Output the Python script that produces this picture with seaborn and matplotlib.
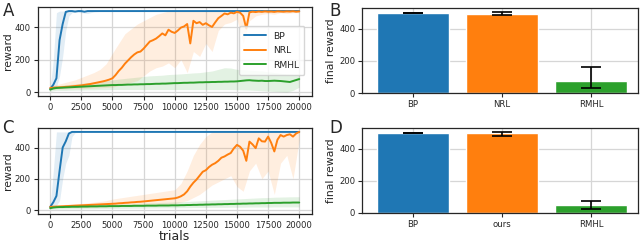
import numpy as np
import pandas as pd
import matplotlib
matplotlib.use("Agg")
import matplotlib.pyplot as plt
import seaborn as sns

# ----------------------------------------------------
# data
# ----------------------------------------------------
trials = list(range(0, 20001, 250))
band_trials = [0, 250, 500, 750, 1000, 1250, 1500, 1750, 2000] + list(range(2500, 20001, 500))

# panel A (mean curves)
a_bp = [20, 45, 85, 320, 420, 495, 500, 500, 497, 500,
        500, 496, 500, 500, 500, 500, 500, 500, 500, 500,
        500, 500, 500, 500, 500, 500, 500, 500, 500, 500,
        500, 500, 500, 500, 500, 500, 500, 500, 500, 500,
        500, 500, 500, 500, 500, 500, 500, 500, 500, 500,
        500, 500, 500, 500, 500, 500, 500, 500, 500, 500,
        500, 500, 500, 500, 500, 500, 500, 500, 500, 500,
        500, 500, 500, 500, 500, 500, 500, 500, 500, 500,
        500]
a_nrl = [25, 27, 28, 29, 30, 32, 33, 35, 37, 39,
         41, 44, 47, 50, 54, 58, 62, 66, 71, 77,
         85, 105, 130, 150, 175, 195, 215, 232, 245, 250,
         268, 290, 312, 320, 330, 345, 362, 350, 385, 372,
         365, 380, 398, 405, 420, 300, 440, 425, 432, 415,
         425, 412, 402, 430, 456, 470, 485, 480, 490, 486,
         495, 490, 470, 392, 492, 496, 494, 497, 495, 498,
         496, 497, 495, 498, 497, 496, 498, 497, 499, 496,
         498]
a_rmhl = [15, 22, 25, 26, 27, 28, 29, 30, 31, 32,
          33, 34, 35, 36, 37, 38, 39, 40, 41, 42,
          43, 43, 44, 44, 45, 46, 46, 47, 47, 48,
          48, 49, 49, 50, 51, 51, 52, 52, 53, 54,
          55, 55, 56, 57, 57, 58, 58, 59, 60, 60,
          61, 61, 62, 62, 63, 63, 64, 64, 65, 65,
          66, 68, 70, 72, 73, 71, 70, 69, 70, 68,
          68, 69, 70, 69, 68, 66, 64, 62, 68, 74,
          80]

# panel A (shaded spread)
a_bp_lo = [15, 20, 30, 100, 220, 380, 470, 490, 495, 490,
           485, 495, 498, 498, 498, 498, 498, 498, 498, 498,
           498, 498, 498, 498, 498, 498, 498, 498, 498, 498,
           498, 498, 498, 498, 498, 498, 498, 498, 498, 498,
           498, 498, 498, 498, 498]
a_bp_hi = [25, 200, 490, 500, 500, 500, 500, 500, 500, 500,
           500, 500, 500, 500, 500, 500, 500, 500, 500, 500,
           500, 500, 500, 500, 500, 500, 500, 500, 500, 500,
           500, 500, 500, 500, 500, 500, 500, 500, 500, 500,
           500, 500, 500, 500, 500]
a_nrl_lo = [15, 18, 18, 19, 19, 19, 20, 20, 20, 20,
            22, 24, 26, 28, 30, 40, 50, 60, 70, 100,
            130, 150, 160, 180, 150, 200, 120, 250, 220, 300,
            250, 380, 420, 430, 450, 300, 440, 470, 480, 485,
            480, 490, 485, 490, 490]
a_nrl_hi = [35, 40, 45, 50, 55, 60, 65, 70, 75, 90,
            105, 120, 140, 175, 240, 300, 360, 390, 420, 440,
            460, 480, 490, 500, 500, 500, 500, 500, 500, 500,
            500, 500, 500, 500, 500, 500, 500, 500, 500, 500,
            500, 500, 500, 500, 500]
a_rmhl_lo = [5, 8, 10, 10, 10, 10, 11, 11, 12, 12,
             13, 13, 14, 14, 15, 15, 15, 15, 15, 15,
             15, 15, 15, 15, 15, 15, 15, 15, 15, 15,
             15, 15, 15, 15, 14, 13, 12, 10, 8, 6,
             4, 2, 0, 10, 30]
a_rmhl_hi = [25, 35, 38, 40, 42, 44, 46, 48, 50, 54,
             58, 62, 66, 70, 75, 80, 84, 88, 92, 96,
             100, 102, 104, 108, 110, 112, 115, 118, 120, 125,
             130, 140, 150, 148, 140, 138, 135, 132, 130, 125,
             120, 115, 112, 110, 110]

# panel C (mean curves)
c_bp = [20, 50, 90, 250, 400, 440, 490, 500, 500, 500,
        500, 500, 500, 500, 500, 500, 500, 500, 500, 500,
        500, 500, 500, 500, 500, 500, 500, 500, 500, 500,
        500, 500, 500, 500, 500, 500, 500, 500, 500, 500,
        500, 500, 500, 500, 500, 500, 500, 500, 500, 500,
        500, 500, 500, 500, 500, 500, 500, 500, 500, 500,
        500, 500, 500, 500, 500, 500, 500, 500, 500, 500,
        500, 500, 500, 500, 500, 500, 500, 500, 500, 500,
        500]
c_ours = [20, 21, 22, 23, 24, 25, 26, 27, 28, 29,
          30, 31, 32, 33, 34, 35, 36, 37, 38, 39,
          40, 41, 43, 44, 46, 47, 49, 50, 52, 53,
          55, 57, 59, 61, 63, 65, 67, 69, 71, 73,
          75, 80, 88, 100, 120, 150, 175, 195, 220, 245,
          255, 275, 290, 300, 315, 335, 343, 355, 365, 395,
          417, 405, 380, 315, 438, 420, 396, 459, 440, 438,
          470, 430, 375, 450, 480, 470, 480, 485, 470, 490,
          500]
c_rmhl = [12, 16, 18, 19, 19, 20, 20, 21, 21, 21,
          22, 22, 22, 23, 23, 23, 24, 24, 24, 25,
          25, 25, 25, 26, 26, 26, 26, 27, 27, 27,
          27, 28, 28, 28, 28, 29, 29, 29, 29, 30,
          30, 30, 31, 31, 32, 32, 33, 33, 34, 34,
          35, 35, 36, 36, 37, 37, 38, 38, 39, 39,
          40, 40, 41, 41, 42, 42, 43, 43, 44, 44,
          45, 45, 46, 46, 46, 47, 47, 47, 48, 48,
          48]

# panel C (shaded spread)
c_bp_lo = [15, 20, 30, 60, 200, 300, 350, 470, 495, 498,
           498, 498, 498, 498, 498, 498, 498, 498, 498, 498,
           498, 498, 498, 498, 498, 498, 498, 498, 498, 498,
           498, 498, 498, 498, 498, 498, 498, 498, 498, 498,
           498, 498, 498, 498, 498]
c_bp_hi = [25, 250, 500, 500, 500, 500, 500, 500, 500, 500,
           500, 500, 500, 500, 500, 500, 500, 500, 500, 500,
           500, 500, 500, 500, 500, 500, 500, 500, 500, 500,
           500, 500, 500, 500, 500, 500, 500, 500, 500, 500,
           500, 500, 500, 500, 500]
c_ours_lo = [15, 15, 15, 16, 16, 16, 17, 17, 17, 18,
             18, 19, 19, 20, 21, 22, 24, 25, 27, 28,
             30, 32, 34, 36, 40, 50, 60, 80, 100, 130,
             160, 180, 200, 220, 150, 120, 250, 300, 200, 250,
             100, 300, 350, 200, 450]
c_ours_hi = [30, 32, 33, 34, 35, 36, 37, 38, 40, 42,
             46, 50, 55, 60, 70, 76, 82, 88, 94, 100,
             106, 112, 118, 124, 130, 170, 250, 350, 420, 470,
             500, 500, 500, 500, 500, 500, 500, 500, 500, 500,
             500, 500, 500, 500, 500]
c_rmhl_lo = [5, 6, 6, 7, 7, 7, 8, 8, 8, 8,
             9, 9, 10, 10, 10, 11, 11, 12, 12, 12,
             13, 13, 14, 14, 14, 15, 15, 16, 16, 16,
             17, 17, 17, 18, 18, 18, 19, 19, 19, 19,
             20, 20, 20, 20, 20]
c_rmhl_hi = [25, 27, 28, 29, 29, 30, 30, 31, 31, 32,
             33, 34, 35, 36, 37, 38, 40, 41, 43, 44,
             46, 47, 49, 50, 52, 53, 55, 57, 59, 61,
             63, 65, 67, 69, 71, 73, 75, 77, 79, 80,
             82, 83, 84, 85, 85]

# bar panels
b_labels = ["BP", "NRL", "RMHL"]
b_values = [497, 493, 76]
b_err_lo = [2, 8, 45]
b_err_hi = [2, 8, 87]

d_labels = ["BP", "ours", "RMHL"]
d_values = [498, 494, 47]
d_err_lo = [2, 13, 23]
d_err_hi = [2, 12, 29]

colors = ["#1f77b4", "#ff7f0e", "#2ca02c"]

# ----------------------------------------------------
# style
# ----------------------------------------------------
sns.set_style("whitegrid", {
    "axes.edgecolor": "#262626",
    "grid.color": "#d6d6d6",
    "xtick.bottom": True,
    "ytick.left": True,
})
plt.rcParams["font.family"] = ["DejaVu Sans"]
plt.rcParams.update({
    "font.size": 6.2,
    "axes.labelsize": 7.8,
    "xtick.labelsize": 6.1,
    "ytick.labelsize": 6.1,
    "xtick.major.size": 3,
    "ytick.major.size": 3,
    "xtick.major.pad": 2,
    "ytick.major.pad": 2,
    "axes.linewidth": 0.9,
    "grid.linewidth": 0.9,
})

fig = plt.figure(figsize=(6.4, 2.42), dpi=100)
ax_a = fig.add_axes([0.059, 0.603, 0.428, 0.368])
ax_c = fig.add_axes([0.059, 0.116, 0.428, 0.355])
ax_b = fig.add_axes([0.566, 0.615, 0.431, 0.352])
ax_d = fig.add_axes([0.566, 0.120, 0.431, 0.351])


def curve_panel(ax, means, bands, names, legend):
    for (m, (lo, hi), name, col) in zip(means, bands, names, colors):
        ax.fill_between(band_trials, lo, hi, color=col, alpha=0.13, lw=0)
        sns.lineplot(x=trials, y=m, ax=ax, color=col, lw=1.4, label=name,
                     legend=False)
    ax.set_xticks(range(0, 20001, 2500))
    ax.set_yticks([0, 200, 400])
    ax.set_xlim(-1000, 21000)
    ax.set_ylim(-25, 525)
    ax.set_ylabel("reward", labelpad=1)
    if legend:
        ax.legend(loc="center right", bbox_to_anchor=(0.99, 0.51),
                  fontsize=6.6, frameon=True, handlelength=2.3,
                  borderpad=0.6, labelspacing=0.6)


def bar_panel(ax, labels, values, lo, hi):
    df = pd.DataFrame({"method": labels, "final": values})
    sns.barplot(data=df, x="method", y="final", hue="method",
                palette=colors, saturation=1, errorbar=None, ax=ax,
                width=0.8, legend=False)
    ax.errorbar(range(len(values)), values, yerr=[lo, hi], fmt="none",
                ecolor="black", elinewidth=1.2, capsize=7, capthick=1.2)
    ax.set_xlim(-0.57, 2.53)
    ax.set_ylim(0, 528)
    ax.set_yticks([0, 200, 400])
    ax.set_xlabel("")
    ax.set_ylabel("final reward", labelpad=2)
    ax.xaxis.grid(True)


curve_panel(ax_a, [a_bp, a_nrl, a_rmhl],
            [(a_bp_lo, a_bp_hi), (a_nrl_lo, a_nrl_hi), (a_rmhl_lo, a_rmhl_hi)],
            ["BP", "NRL", "RMHL"], True)
curve_panel(ax_c, [c_bp, c_ours, c_rmhl],
            [(c_bp_lo, c_bp_hi), (c_ours_lo, c_ours_hi), (c_rmhl_lo, c_rmhl_hi)],
            ["BP", "ours", "RMHL"], False)
ax_c.set_xlabel("trials", fontsize=9, labelpad=0)

bar_panel(ax_b, b_labels, b_values, b_err_lo, b_err_hi)
bar_panel(ax_d, d_labels, d_values, d_err_lo, d_err_hi)

for txt, x, y in [("A", 0.004, 0.935), ("B", 0.514, 0.935),
                  ("C", 0.004, 0.452), ("D", 0.514, 0.452)]:
    fig.text(x, y, txt, fontsize=12)

fig.savefig("out.png", dpi=100)
